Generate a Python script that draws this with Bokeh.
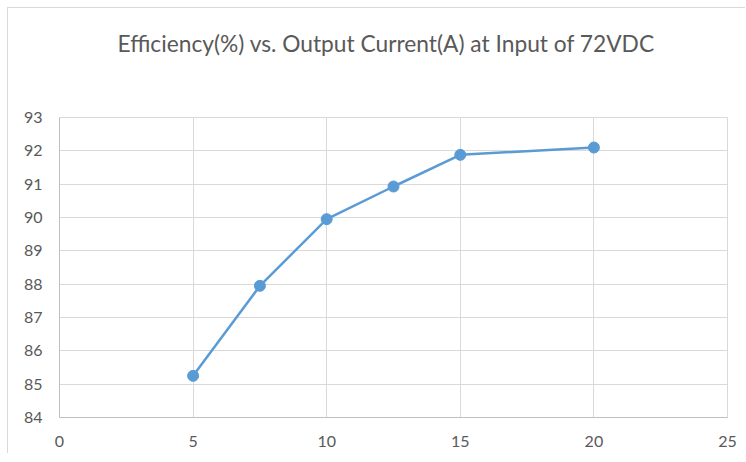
from bokeh.plotting import figure
from bokeh.models import Range1d, FixedTicker, Title
from bokeh.embed import file_html
from bokeh.resources import INLINE

current = [5, 7.5, 10, 12.5, 15, 20]
efficiency = [85.25, 87.95, 89.95, 90.93, 91.88, 92.1]
x_ticks = [0, 5, 10, 15, 20, 25]
y_ticks = [84, 85, 86, 87, 88, 89, 90, 91, 92, 93]
title_text = "Efficiency(%) vs. Output Current(A) at Input of 72VDC"

FONT = "Lato"
TXT = "#595959"
GRID = "#d9d9d9"
BLUE = "#5b9bd5"

p = figure(width=738, height=446, output_backend="svg", toolbar_location=None, title=None,
           x_range=Range1d(0, 25), y_range=Range1d(84, 93),
           min_border_left=51, min_border_right=19, min_border_top=109, min_border_bottom=37)

# spacer (closest to frame) then the main title above it
p.add_layout(Title(text=" ", text_font_size="1px", standoff=58), "above")
p.add_layout(Title(text=title_text, align="left", offset=58, text_font=FONT,
                   text_font_size="22.75px", text_color=TXT, text_font_style="normal",
                   standoff=0), "above")

p.outline_line_color = GRID
p.outline_line_width = 1

for ax, ticks in ((p.xaxis[0], x_ticks), (p.yaxis[0], y_ticks)):
    ax.ticker = FixedTicker(ticks=ticks)
    ax.axis_line_color = "#bfbfbf"
    ax.axis_line_width = 1
    ax.major_tick_line_color = None
    ax.minor_tick_line_color = None
    ax.major_tick_out = 0
    ax.major_tick_in = 0
    ax.major_label_text_font = FONT
    ax.major_label_text_font_size = "16px"
    ax.major_label_text_color = TXT
p.xaxis[0].major_label_standoff = 18
p.yaxis[0].major_label_standoff = 17

p.xgrid.ticker = FixedTicker(ticks=x_ticks)
p.ygrid.ticker = FixedTicker(ticks=y_ticks)
p.grid.grid_line_color = GRID
p.grid.grid_line_width = 1

p.line(current, efficiency, line_color=BLUE, line_width=2.5)
p.scatter(current, efficiency, size=11, fill_color=BLUE, line_color=BLUE)

p.styles = {"margin": "8px 0 0 8px", "box-shadow": "-1px -1px 0 0 #d9d9d9"}

open("out.html", "w").write(file_html(p, INLINE))
